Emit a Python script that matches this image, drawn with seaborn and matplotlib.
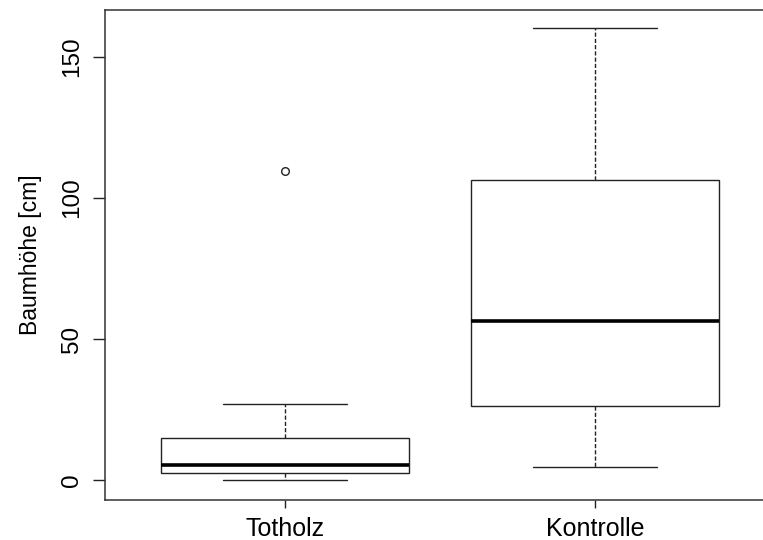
import pandas as pd
import matplotlib
matplotlib.use("Agg")
import matplotlib.pyplot as plt
import seaborn as sns

# estimated observations (chosen to reproduce the box summaries in the picture)
groups = ["Totholz", "Kontrolle"]
totholz = [0, 1.5, 2.6, 4.0, 5.3, 10.0, 15.0, 26.9, 109.5]
kontrolle = [4.6, 15.0, 26.2, 40.0, 56.3, 80.0, 106.3, 130.0, 160.2]
y_ticks = [0, 50, 100, 150]
y_label = "Baumhöhe [cm]"

df = pd.DataFrame({
    "gruppe": ["Totholz"] * len(totholz) + ["Kontrolle"] * len(kontrolle),
    "hoehe": totholz + kontrolle,
})

sns.set_style("ticks")
plt.rcParams["font.family"] = ["Liberation Sans", "DejaVu Sans"]

fig = plt.figure(figsize=(7.63, 5.40), dpi=100)
# right edge of the frame lies outside the canvas, as in the original
ax = fig.add_axes([105 / 763, 40 / 540, 670.3 / 763, 490.3 / 540])

line_col = "#222222"
sns.boxplot(
    data=df, x="gruppe", y="hoehe", order=groups, ax=ax,
    width=0.8, color="white", linecolor=line_col, linewidth=1.0, whis=1.5,
    whiskerprops={"linestyle": (0, (3, 1.5)), "linewidth": 1.0},
    capprops={"linewidth": 1.0},
    medianprops={"linewidth": 2.6, "color": "black"},
    flierprops={"marker": "o", "markersize": 5.5, "markerfacecolor": "none",
                "markeredgecolor": line_col, "markeredgewidth": 1.0},
)

ax.set_xlim(-0.58, 1.58)
ax.set_ylim(-7.0, 166.6)
ax.set_yticks(y_ticks)
ax.set_yticklabels([str(t) for t in y_ticks], rotation=90, va="center", fontsize=17.5)
ax.set_xticks(range(len(groups)))
ax.set_xticklabels(groups, fontsize=18)
ax.tick_params(axis="y", length=8.6, width=1.0, pad=7, colors=line_col, labelcolor="black")
ax.tick_params(axis="x", length=5.5, width=1.0, pad=7, colors=line_col, labelcolor="black")

ax.set_xlabel("")
ax.set_ylabel(y_label, fontsize=16.5, color="black")
ax.yaxis.set_label_coords(-0.094, 0.5)

for side in ["left", "top", "bottom"]:
    ax.spines[side].set_linewidth(1.1)
    ax.spines[side].set_color("#333333")
ax.spines["right"].set_color("none")
ax.spines["right"].set_linewidth(0)
ax.spines["right"].set_visible(False)

fig.savefig("out.png", dpi=100)
